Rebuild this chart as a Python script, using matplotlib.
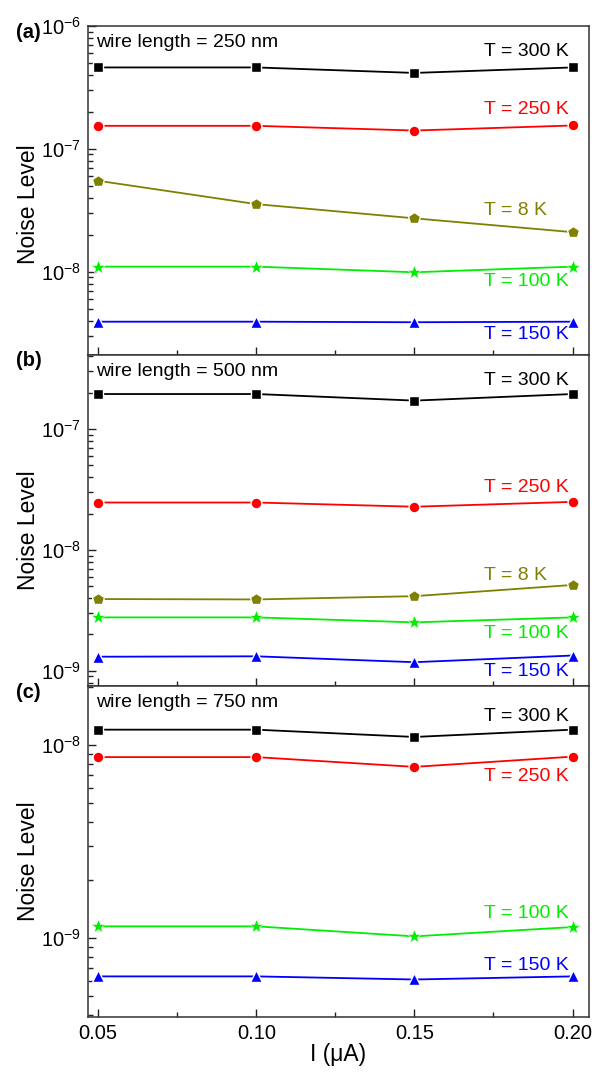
import numpy as np
import matplotlib
matplotlib.use("Agg")
import matplotlib.pyplot as plt
from matplotlib.ticker import NullFormatter, FixedLocator, FixedFormatter, MultipleLocator, LogFormatterSciNotation

plt.rcParams['font.family'] = ['Liberation Sans', 'DejaVu Sans']
plt.rcParams['mathtext.default'] = 'regular'

# Bias current (uA)
current = [0.05, 0.10, 0.15, 0.20]
xtick_labels = ["0.05", "0.10", "0.15", "0.20"]

# Noise level, wire length = 250 nm
a_300 = [4.6e-7, 4.6e-7, 4.15e-7, 4.6e-7]
a_250 = [1.54e-7, 1.54e-7, 1.41e-7, 1.55e-7]
a_8 = [5.5e-8, 3.55e-8, 2.72e-8, 2.1e-8]
a_100 = [1.1e-8, 1.1e-8, 9.9e-9, 1.1e-8]
a_150 = [3.92e-9, 3.92e-9, 3.88e-9, 3.92e-9]

# Noise level, wire length = 500 nm
b_300 = [1.95e-7, 1.95e-7, 1.72e-7, 1.95e-7]
b_250 = [2.47e-8, 2.47e-8, 2.28e-8, 2.5e-8]
b_8 = [3.93e-9, 3.9e-9, 4.15e-9, 5.14e-9]
b_100 = [2.77e-9, 2.77e-9, 2.52e-9, 2.77e-9]
b_150 = [1.31e-9, 1.32e-9, 1.18e-9, 1.34e-9]

# Noise level, wire length = 750 nm
c_300 = [1.2e-8, 1.2e-8, 1.1e-8, 1.2e-8]
c_250 = [8.65e-9, 8.65e-9, 7.7e-9, 8.7e-9]
c_100 = [1.15e-9, 1.15e-9, 1.02e-9, 1.14e-9]
c_150 = [6.33e-10, 6.33e-10, 6.1e-10, 6.33e-10]

wire_lengths = ["wire length = 250 nm", "wire length = 500 nm", "wire length = 750 nm"]
panel_tags = ["(a)", "(b)", "(c)"]

styles = {
    "T = 300 K": dict(color="#000000", marker="s", ms=7.2, mew=1.0),
    "T = 250 K": dict(color="#FF0000", marker="o", ms=7.8, mew=1.0),
    "T = 8 K": dict(color="#808000", marker="p", ms=8.6, mew=1.0),
    "T = 100 K": dict(color="#00EE00", marker="*", ms=10.5, mew=0.4),
    "T = 150 K": dict(color="#0000FF", marker="^", ms=8.6, mew=1.0),
}

panels = [
    dict(series={"T = 300 K": a_300, "T = 250 K": a_250, "T = 8 K": a_8,
                 "T = 100 K": a_100, "T = 150 K": a_150},
         ylim=(2.1e-9, 1e-6),
         label_y={"T = 300 K": 0.921, "T = 250 K": 0.745, "T = 8 K": 0.438,
                  "T = 100 K": 0.222, "T = 150 K": 0.061},
         ylabel_y=0.457),
    dict(series={"T = 300 K": b_300, "T = 250 K": b_250, "T = 8 K": b_8,
                 "T = 100 K": b_100, "T = 150 K": b_150},
         ylim=(7.5e-10, 4.1e-7),
         label_y={"T = 300 K": 0.924, "T = 250 K": 0.601, "T = 8 K": 0.335,
                  "T = 100 K": 0.160, "T = 150 K": 0.045},
         ylabel_y=0.471),
    dict(series={"T = 300 K": c_300, "T = 250 K": c_250,
                 "T = 100 K": c_100, "T = 150 K": c_150},
         ylim=(3.9e-10, 2.02e-8),
         label_y={"T = 300 K": 0.909, "T = 250 K": 0.728,
                  "T = 100 K": 0.314, "T = 150 K": 0.157},
         ylabel_y=0.471),
]


def log_ticks(lo, hi):
    """Decade and sub-decade tick positions inside [lo, hi]."""
    major, minor = [], []
    for e in range(int(np.floor(np.log10(lo))), int(np.ceil(np.log10(hi))) + 1):
        for m in range(1, 10):
            v = m * 10.0 ** e
            if lo * (1 - 1e-9) <= v <= hi * (1 + 1e-9):
                (major if m == 1 else minor).append(v)
    return major, minor


W, H = 592, 1074
fig = plt.figure(figsize=(W / 100, H / 100), dpi=100)

left_px, right_px = 88, 589
bounds_px = [(26, 355), (355, 686), (686, 1017)]
tag_y_px = [32, 360, 693]

for k, (panel, (top_px, bot_px)) in enumerate(zip(panels, bounds_px)):
    ax = fig.add_axes([left_px / W, (H - bot_px) / H,
                       (right_px - left_px) / W, (bot_px - top_px) / H])
    for name, vals in panel["series"].items():
        st = styles[name]
        ax.plot(current, vals, color=st["color"], lw=1.3, marker=st["marker"],
                ms=st["ms"], mfc=st["color"], mec="white", mew=st["mew"], zorder=3)
        ax.text(0.790, panel["label_y"][name], name, transform=ax.transAxes,
                color=st["color"], fontsize=14, ha="left", va="center")

    ax.set_yscale("log")
    ax.set_ylim(*panel["ylim"])
    ax.set_xlim(0.0468, 0.2052)

    major, minor = log_ticks(*panel["ylim"])
    ax.yaxis.set_major_locator(FixedLocator(major))
    ax.yaxis.set_major_formatter(LogFormatterSciNotation())
    ax.yaxis.set_minor_locator(FixedLocator(minor))
    ax.yaxis.set_minor_formatter(NullFormatter())

    ax.xaxis.set_major_locator(FixedLocator(current))
    ax.xaxis.set_minor_locator(MultipleLocator(0.025))
    if k == 2:
        ax.xaxis.set_major_formatter(FixedFormatter(xtick_labels))
        ax.set_xlabel("I (\u03bcA)", fontsize=16.5)
        ax.xaxis.set_label_coords(0.5, -0.08)
    else:
        ax.tick_params(axis="x", labelbottom=False)

    ax.tick_params(axis="both", which="both", direction="in", top=False, right=False,
                   labelsize=14.5, width=1.0, colors="#222222", labelcolor="black")
    ax.tick_params(axis="both", which="major", length=6, pad=5)
    ax.tick_params(axis="both", which="minor", length=3.5)

    for sp in ax.spines.values():
        sp.set_linewidth(1.1)
        sp.set_color("#333333")

    ax.set_ylabel("Noise Level", fontsize=16.5, va="center")
    ax.yaxis.set_label_coords(-0.118, panel["ylabel_y"])

    ax.text(0.016, 0.951, wire_lengths[k], transform=ax.transAxes,
            fontsize=14, ha="left", va="center")

    fig.text(16 / W, 1 - tag_y_px[k] / H, panel_tags[k], fontsize=14.5,
             fontweight="bold", ha="left", va="center")

fig.savefig("out.png", dpi=100, facecolor="white")
